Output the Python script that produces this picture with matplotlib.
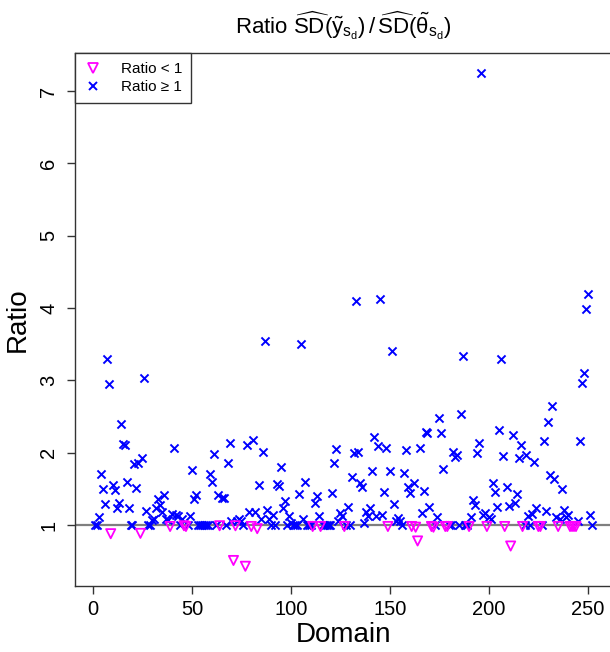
import numpy as np
import matplotlib
matplotlib.use('Agg')
import matplotlib.pyplot as plt
from matplotlib.lines import Line2D

plt.rcParams['font.family'] = ['Liberation Sans', 'DejaVu Sans']
plt.rcParams['mathtext.fontset'] = 'custom'
plt.rcParams['mathtext.rm'] = 'Liberation Sans'
plt.rcParams['mathtext.it'] = 'Liberation Sans'
plt.rcParams['mathtext.bf'] = 'Liberation Sans:bold'

# ratio per domain (domain = 1..252)
ratio = [
    1.00, 1.00, 1.11, 1.71, 1.50, 1.29, 3.29, 2.95, 0.88, 1.56,
    1.48, 1.24, 1.30, 2.39, 2.12, 2.11, 1.59, 1.24, 1.00, 1.00,
    1.84, 1.51, 1.86, 0.885, 1.93, 3.03, 1.19, 1.00, 1.00, 1.07,
    1.09, 1.23, 1.36, 1.28, 1.18, 1.41, 1.09, 1.07, 0.98, 1.15,
    2.06, 1.14, 1.12, 1.00, 1.08, 0.99, 0.98, 1.00, 1.13, 1.76,
    1.36, 1.41, 1.00, 1.00, 1.00, 1.00, 1.00, 1.00, 1.70, 1.60,
    1.98, 1.00, 1.41, 0.99, 1.38, 1.37, 1.00, 1.86, 2.13, 1.06,
    0.51, 0.99, 1.06, 1.08, 1.05, 1.00, 0.43, 2.10, 1.18, 0.98,
    2.18, 1.18, 0.95, 1.56, 1.08, 2.01, 3.54, 1.21, 1.09, 1.00,
    1.14, 1.00, 1.57, 1.54, 1.80, 1.24, 1.33, 1.00, 1.12, 1.03,
    1.00, 1.00, 1.00, 1.43, 3.50, 1.08, 1.60, 1.00, 1.00, 1.00,
    0.98, 1.30, 1.40, 1.12, 0.98, 1.00, 1.00, 1.00, 1.00, 1.00,
    1.44, 1.86, 2.05, 1.06, 1.16, 1.13, 0.98, 1.00, 1.25, 1.00,
    1.66, 1.99, 4.10, 2.01, 1.58, 1.52, 1.03, 1.18, 1.13, 1.24,
    1.75, 2.22, 1.12, 2.09, 4.12, 1.14, 1.45, 2.06, 0.98, 1.75,
    3.41, 1.29, 1.05, 1.10, 1.06, 1.00, 1.72, 2.04, 1.53, 1.44,
    0.98, 1.58, 0.97, 0.78, 2.07, 1.16, 1.47, 2.29, 2.27, 1.25,
    0.98, 0.97, 1.00, 1.11, 2.48, 2.27, 1.78, 0.98, 0.98, 1.00,
    1.00, 2.01, 1.94, 1.97, 1.00, 2.54, 3.34, 1.00, 1.00, 0.98,
    1.11, 1.35, 1.28, 1.99, 2.14, 7.25, 1.14, 1.17, 0.98, 1.11,
    1.09, 1.58, 1.45, 1.25, 2.31, 3.29, 1.96, 0.98, 1.52, 1.27,
    0.71, 2.25, 1.30, 1.43, 1.92, 2.10, 0.98, 1.00, 1.97, 1.12,
    1.00, 1.15, 1.87, 1.23, 0.98, 0.98, 1.00, 2.16, 1.20, 2.42,
    1.69, 2.65, 1.64, 1.11, 0.98, 1.09, 1.50, 1.21, 1.11, 1.14,
    0.98, 0.98, 0.98, 0.98, 1.06, 2.16, 2.96, 3.10, 3.98, 4.19,
    1.14, 1.00,
]
domain = np.arange(1, len(ratio) + 1)
xticks = [0, 50, 100, 150, 200, 250]
yticks = [1, 2, 3, 4, 5, 6, 7]
legend_labels = ['Ratio < 1', 'Ratio \u2265 1']

ratio = np.array(ratio)
below = ratio < 1

fig = plt.figure(figsize=(6.1, 6.52), dpi=100)
# axes box: left edge at 75px, right edge just beyond the image (like the cropped original)
ax = fig.add_axes([75 / 610, 66 / 652, 536.7 / 610, 532.8 / 652])

ax.axhline(1, color='#7f7f7f', lw=1.6, zorder=1)
ax.scatter(domain[~below], ratio[~below], marker='x', s=34, color='blue',
           linewidths=1.4, zorder=3)
ax.scatter(domain[below], ratio[below], marker='v', s=44, facecolors='none',
           edgecolors='magenta', linewidths=1.3, zorder=3)

# R-style 4% padding
xr = domain.max() - domain.min()
yr = ratio.max() - ratio.min()
ax.set_xlim(domain.min() - 0.04 * xr, domain.max() + 0.04 * xr)
ax.set_ylim(ratio.min() - 0.04 * yr, ratio.max() + 0.04 * yr)

ax.set_xticks(xticks)
ax.set_yticks(yticks)
ax.tick_params(axis='both', direction='out', length=6, width=1, labelsize=14.5,
               color='#333333')
ax.tick_params(axis='x', pad=4)
ax.tick_params(axis='y', pad=6)
for lab in ax.get_yticklabels():
    lab.set_rotation(90)
    lab.set_va('center')

for sp in ax.spines.values():
    sp.set_color('#333333')
    sp.set_linewidth(1.0)

ax.set_xlabel('Domain', fontsize=20, labelpad=2)
ax.set_ylabel('Ratio', fontsize=20, labelpad=6)
ax.set_title(r'Ratio $\widehat{\mathrm{SD}}(\tilde{\mathrm{y}}_{\mathrm{s_d}})\,/\,\widehat{\mathrm{SD}}(\tilde{\theta}_{\mathrm{s_d}})$',
             fontsize=16, pad=14)

handles = [
    Line2D([], [], ls='none', marker='v', markersize=7.5, markerfacecolor='none',
           markeredgecolor='magenta', markeredgewidth=1.3),
    Line2D([], [], ls='none', marker='x', markersize=6, color='blue',
           markeredgewidth=1.4),
]
leg = ax.legend(handles, legend_labels, loc='upper left', fontsize=11,
                frameon=True, fancybox=False, edgecolor='#333333', framealpha=1,
                borderaxespad=0, handletextpad=1.3, handlelength=1.1,
                borderpad=0.6, labelspacing=0.25)
leg.get_frame().set_linewidth(1.0)

fig.savefig('out.png', dpi=100)
